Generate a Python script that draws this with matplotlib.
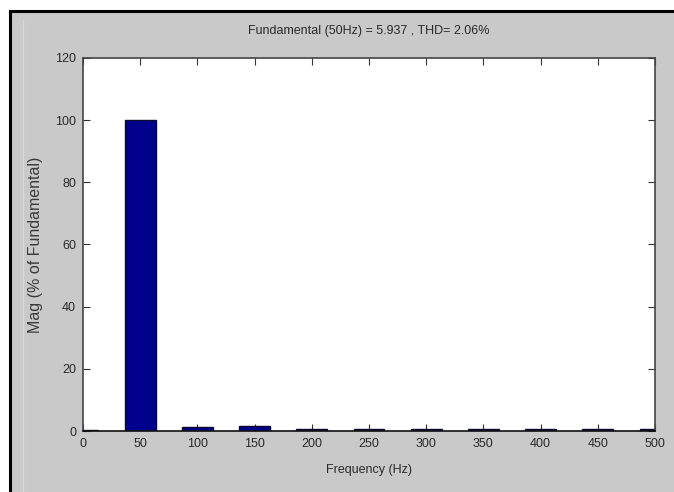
import numpy as np
import matplotlib
matplotlib.use("Agg")
import matplotlib.pyplot as plt
from matplotlib.patches import Rectangle
from matplotlib.lines import Line2D

# harmonic spectrum, % of fundamental
freqs = [0, 50, 100, 150, 200, 250, 300, 350, 400, 450, 500]
mags = [0.4, 100, 1.3, 1.7, 0.5, 0.5, 0.5, 0.5, 0.5, 0.5, 0.5]
fund_amp = 5.937
thd = 2.06

xticks = [0, 50, 100, 150, 200, 250, 300, 350, 400, 450, 500]
yticks = [0, 20, 40, 60, 80, 100, 120]

def main():
    W, H = 674, 492
    fig = plt.figure(figsize=(W / 100, H / 100), dpi=100)
    fig.patch.set_facecolor("white")

    # grey figure panel with dark frame on left/top
    fig.patches.append(Rectangle((10 / W, 0), 1 - 10 / W, 1 - 11 / H,
                                 transform=fig.transFigure, facecolor="#c9c9c9",
                                 edgecolor="none", zorder=-10))
    fig.lines.append(Line2D([10 / W, 10 / W], [0, 1 - 11 / H], transform=fig.transFigure,
                            color="black", lw=2.2, zorder=-5))
    fig.lines.append(Line2D([10 / W, 1], [1 - 11 / H, 1 - 11 / H], transform=fig.transFigure,
                            color="black", lw=2.2, zorder=-5))
    fig.lines.append(Line2D([23 / W, 23 / W], [0, 1 - 20 / H], transform=fig.transFigure,
                            color="#d6d6d6", lw=1, zorder=-5))

    ax = fig.add_axes([83 / W, 1 - 431 / H, (655 - 83) / W, (431 - 58) / H])
    ax.set_zorder(1)
    ax.set_facecolor("white")
    ax.bar(freqs, mags, width=27, color="#00008c", edgecolor="#0a0a30", linewidth=1.0,
           zorder=2)

    ax.set_xlim(0, 500)
    ax.set_ylim(0, 120)
    ax.set_xticks(xticks)
    ax.set_yticks(yticks)

    tfont = dict(family=["Liberation Sans", "DejaVu Sans"], size=9, color="#2a2a2a")
    ax.set_xticklabels([str(t) for t in xticks], **tfont)
    ax.set_yticklabels([str(t) for t in yticks], **tfont)
    ax.tick_params(direction="in", length=5, width=0.8, color="#333333",
                   top=True, right=True, pad=5)
    for s in ax.spines.values():
        s.set_color("#444444")
        s.set_linewidth(1.2)
    ax.spines["bottom"].set_color("#111111")

    ax.set_title("Fundamental (50Hz) = %.3f , THD= %.2f%%" % (fund_amp, thd),
                 pad=17, **tfont)
    ax.set_xlabel("Frequency (Hz)", labelpad=10, **tfont)
    ax.set_ylabel("Mag (% of Fundamental)", labelpad=9,
                  family=["Liberation Sans", "DejaVu Sans"], size=11.5, color="#3a3a3a")

    fig.savefig("out.png", dpi=100)

if __name__ == "__main__":
    main()
